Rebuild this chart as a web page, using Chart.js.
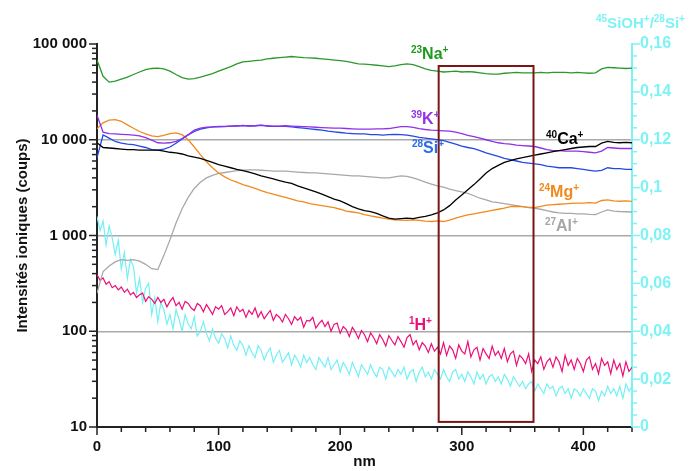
<!DOCTYPE html>
<html><head><meta charset="utf-8">
<script src="https://cdn.jsdelivr.net/npm/chart.js@4/dist/chart.umd.min.js"></script>
<style>html,body{margin:0;padding:0;background:#fff;}canvas{display:block;}</style>
</head><body>
<canvas id="c" width="691" height="471"></canvas>
<script>
// ---------- DATA ----------
const depth5 = [0,5,10,15,20,25,30,35,40,45,50,55,60,65,70,75,80,85,90,95,100,105,110,115,120,125,130,135,140,145,150,155,160,165,170,175,180,185,190,195,200,205,210,215,220,225,230,235,240,245,250,255,260,265,270,275,280,285,290,295,300,305,310,315,320,325,330,335,340,345,350,355,360,365,370,375,380,385,390,395,400,405,410,415,420,425,430,435,440];
const depth25 = [0,2.5,5,7.5,10,12.5,15,17.5,20,22.5,25,27.5,30,32.5,35,37.5,40,42.5,45,47.5,50,52.5,55,57.5,60,62.5,65,67.5,70,72.5,75,77.5,80,82.5,85,87.5,90,92.5,95,97.5,100,102.5,105,107.5,110,112.5,115,117.5,120,122.5,125,127.5,130,132.5,135,137.5,140,142.5,145,147.5,150,152.5,155,157.5,160,162.5,165,167.5,170,172.5,175,177.5,180,182.5,185,187.5,190,192.5,195,197.5,200,202.5,205,207.5,210,212.5,215,217.5,220,222.5,225,227.5,230,232.5,235,237.5,240,242.5,245,247.5,250,252.5,255,257.5,260,262.5,265,267.5,270,272.5,275,277.5,280,282.5,285,287.5,290,292.5,295,297.5,300,302.5,305,307.5,310,312.5,315,317.5,320,322.5,325,327.5,330,332.5,335,337.5,340,342.5,345,347.5,350,352.5,355,357.5,360,362.5,365,367.5,370,372.5,375,377.5,380,382.5,385,387.5,390,392.5,395,397.5,400,402.5,405,407.5,410,412.5,415,417.5,420,422.5,425,427.5,430,432.5,435,437.5,440];

const na23 = [68000,46000,40000,41000,43000,45000,48000,51000,54000,55500,
56000,55000,52000,48000,44500,43000,43500,45000,47000,49000,
52000,55000,58000,62000,65000,66000,67000,68000,70000,71000,
72000,73000,74000,73000,72000,71500,71000,70000,69000,68000,
67000,66000,64000,62000,61500,61000,60000,59000,58000,59000,
61000,62000,61000,58000,55000,53000,52000,51000,51500,52000,
51000,51500,51000,50000,49000,48500,48500,49500,50000,50500,
50000,50000,50000,50500,50000,50500,50500,50500,50000,50500,
50000,49500,50000,55000,57000,56500,56000,55500,56000];
const k39 = [18000,12000,11600,11500,11400,11300,11200,11000,10500,9900,
9300,9200,9300,9600,10300,11300,12600,13200,13500,13600,
13800,13800,13900,14000,14000,14000,14000,14100,14000,13900,
13900,14000,13900,13800,13700,13600,13500,13400,13300,13200,
13200,13100,13000,12900,12900,12900,13000,13000,13100,13400,
13700,13700,13500,13100,12800,12600,12500,12400,12300,12000,
11600,11100,10800,10400,10000,9600,9300,9100,9000,8800,
8700,8600,8500,8200,7900,7700,7700,7600,7600,7600,
7500,7400,7300,7600,8300,8200,8100,8100,8100];
const si28 = [6500,11200,10400,9600,9200,9000,8900,8600,8300,7900,
7800,8000,8400,9200,10200,11200,12200,12900,13300,13600,
13600,13700,13900,13900,14100,13900,14000,14200,13900,13800,
13800,13800,13600,13400,13200,13000,12800,12600,12300,12100,
11900,11700,11600,11500,11500,11300,11300,11200,11300,11400,
11300,11200,10900,10600,10400,10200,10000,9800,9400,9000,
8600,8300,8100,7700,7300,7000,6700,6400,6200,6000,
5800,5700,5600,5500,5300,5200,5100,5100,5100,5000,
4900,4800,4700,4800,5100,5000,5000,4900,4900];
const ca40 = [9300,8300,8200,8100,8000,7900,7900,7800,7800,7800,
7800,7600,7400,7300,7100,6800,6600,6400,6100,5800,
5500,5300,5100,4900,4750,4600,4400,4200,4050,3900,
3750,3600,3500,3300,3150,3000,2850,2700,2550,2400,
2300,2150,2000,1900,1820,1780,1700,1600,1520,1480,
1500,1520,1500,1550,1580,1640,1720,1850,2050,2350,
2650,3000,3400,3900,4500,5000,5400,5800,6050,6300,
6500,6700,6900,7100,7300,7500,7700,7900,8100,8300,
8400,8500,8500,9200,9600,9400,9300,9400,9300];
const mg24 = [13000,15000,16000,16200,15600,14300,13200,12200,11500,11000,
10800,11100,11600,11800,11300,10000,8400,7000,5900,5100,
4500,4100,3800,3600,3400,3250,3100,2950,2800,2700,
2600,2500,2400,2300,2250,2150,2100,2050,2000,1950,
1880,1800,1760,1720,1650,1600,1560,1520,1480,1460,
1450,1440,1460,1440,1410,1400,1420,1400,1450,1520,
1580,1640,1680,1730,1780,1830,1880,1930,2000,2020,
2000,1970,1960,2020,2080,2100,2120,2140,2160,2180,
2180,2200,2180,2320,2360,2300,2280,2300,2270];
const al27 = [250,420,480,530,560,550,560,540,500,450,
440,620,900,1350,1900,2500,3100,3600,4000,4250,
4450,4550,4650,4750,4800,4850,4850,4800,4750,4700,
4700,4700,4650,4600,4550,4500,4500,4450,4400,4350,
4300,4250,4200,4200,4150,4100,4050,4000,4000,4100,
4200,4150,4000,3800,3600,3450,3300,3200,3050,2950,
2850,2750,2600,2450,2350,2250,2200,2150,2100,2050,
2000,1950,1920,1880,1820,1760,1720,1700,1700,1680,
1680,1660,1650,1760,1850,1800,1780,1770,1760];
const h1 = [390,340,360,310,330,285,300,270,290,255,
275,240,255,225,240,250,205,230,215,195,
225,200,215,180,205,225,185,200,170,205,
195,175,165,195,185,160,190,170,150,180,
170,185,150,160,175,145,180,160,170,140,
165,150,175,140,160,135,150,165,130,150,
140,125,150,135,118,142,130,140,110,130,
128,140,108,120,130,112,125,100,118,122,
95,112,104,88,110,98,84,102,92,78,
96,86,74,92,82,70,90,80,72,88,
78,68,86,92,72,80,64,76,70,60,
74,62,68,58,76,56,70,64,52,72,
62,58,78,54,64,68,50,66,58,52,
70,56,62,52,66,48,58,62,44,56,
52,46,58,38,50,46,54,40,48,52,
42,54,48,38,56,44,50,40,52,46,
38,50,54,40,46,36,52,44,48,36,
50,40,46,34,48,38,42];
const siohRatio = [0.088,0.082,0.086,0.076,0.084,0.079,0.072,0.078,0.066,0.073,
0.062,0.070,0.067,0.056,0.062,0.052,0.058,0.060,0.047,0.054,
0.044,0.052,0.049,0.043,0.047,0.041,0.049,0.045,0.040,0.047,
0.043,0.041,0.046,0.038,0.040,0.044,0.039,0.036,0.041,0.037,
0.035,0.039,0.037,0.033,0.038,0.034,0.032,0.036,0.034,0.030,
0.034,0.031,0.029,0.034,0.032,0.028,0.031,0.033,0.027,0.030,
0.032,0.027,0.029,0.031,0.026,0.030,0.028,0.025,0.030,0.027,
0.029,0.026,0.024,0.029,0.027,0.025,0.029,0.024,0.026,0.028,
0.023,0.027,0.025,0.022,0.027,0.024,0.021,0.026,0.024,0.022,
0.026,0.023,0.021,0.025,0.024,0.020,0.025,0.023,0.021,0.024,
0.022,0.025,0.020,0.023,0.024,0.019,0.023,0.025,0.021,0.023,
0.020,0.024,0.022,0.020,0.024,0.021,0.019,0.023,0.024,0.020,
0.022,0.019,0.023,0.021,0.018,0.023,0.020,0.022,0.018,0.021,
0.022,0.019,0.021,0.018,0.022,0.020,0.017,0.021,0.019,0.017,
0.019,0.016,0.018,0.019,0.015,0.018,0.016,0.014,0.018,0.016,
0.017,0.013,0.016,0.017,0.014,0.016,0.012,0.016,0.015,0.013,
0.016,0.014,0.012,0.016,0.015,0.011,0.015,0.013,0.017,0.014,
0.016,0.013,0.017,0.012,0.018,0.015,0.017];

const xTickValues = [0,20,40,60,80,100,120,140,160,180,200,220,240,260,280,300,320,340,360,380,400,420,440];
const xLabelValues = [0,100,200,300,400];
const yTickValues = [10,20,30,40,50,60,70,80,90,100,200,300,400,500,600,700,800,900,1000,2000,3000,4000,5000,6000,7000,8000,9000,10000,20000,30000,40000,50000,60000,70000,80000,90000,100000];
const yLabelValues = [10,100,1000,10000,100000];
const yGridValues = [100,1000,10000];
const y2TickValues = [0,0.005,0.01,0.015,0.02,0.025,0.03,0.035,0.04,0.045,0.05,0.055,0.06,0.065,0.07,0.075,0.08,0.085,0.09,0.095,0.1,0.105,0.11,0.115,0.12,0.125,0.13,0.135,0.14,0.145,0.15,0.155,0.16];
const y2LabelValues = [0,0.02,0.04,0.06,0.08,0.1,0.12,0.14,0.16];

// highlighted depth window (annotation rectangle)
const boxDepth = [281, 359];
const boxIntensity = [11.3, 58900];

// series labels: text parts (sup flag), anchored in data units
const labelParts = {
  na: [['23',1],['Na',0],['+',1]],
  k:  [['39',1],['K',0],['+',1]],
  si: [['28',1],['Si',0],['+',1]],
  ca: [['40',1],['Ca',0],['+',1]],
  mg: [['24',1],['Mg',0],['+',1]],
  al: [['27',1],['Al',0],['+',1]],
  h:  [['1',1],['H',0],['+',1]]
};
const labelDepth = {na:258.2, k:258.2, si:259, ca:369.3, mg:363.5, al:368.4, h:256.6};
const labelIntensity = {na:69700, k:14600, si:7270, ca:9030, mg:2525, al:1114, h:103};
const rightTitleParts = [['45',1],['SiOH',0],['+',1],['/',0],['28',1],['Si',0],['+',1]];

// ---------- STYLE ----------
const FONT = "'Liberation Sans', Arial, sans-serif";
const COL = {na:'#2a982a', k:'#9030e8', si:'#2248e6', ca:'#000000', mg:'#f3891c', al:'#a8a8a8', h:'#ec0f79', r:'#74f0f5'};
const LBLCOL = {na:'#1f9a1f', k:'#9433e6', si:'#2b6de4', ca:'#000000', mg:'#f3891c', al:'#a6a6a6', h:'#ec0f79'};
const CYAN = '#7ef3f6';

function pts(xs, ys){ return xs.map((d,i)=>({x:d, y:ys[i]})); }
function fmtThousands(v){ return String(v).replace(/\B(?=(\d{3})+(?!\d))/g,' '); }
function near(arr, v){ return arr.some(a=>Math.abs(a-v)<1e-9); }

function drawRich(ctx, x, y, parts, color, bigSize){
  ctx.fillStyle = color;
  ctx.textBaseline = 'alphabetic';
  ctx.textAlign = 'left';
  let cx = x;
  parts.forEach(([t,sup])=>{
    ctx.font = sup ? `bold 10px ${FONT}` : `bold ${bigSize}px ${FONT}`;
    ctx.fillText(t, cx, sup ? y-6 : y);
    cx += ctx.measureText(t).width;
  });
}

const overlayPlugin = {
  id:'overlay',
  afterDatasetsDraw(chart){
    const ctx = chart.ctx, xs = chart.scales.x, ys = chart.scales.y;
    ctx.save();
    const x0 = xs.getPixelForValue(boxDepth[0]), x1 = xs.getPixelForValue(boxDepth[1]);
    const yT = ys.getPixelForValue(boxIntensity[1]), yB = ys.getPixelForValue(boxIntensity[0]);
    ctx.strokeStyle = '#7a1616'; ctx.lineWidth = 2;
    ctx.strokeRect(x0, yT, x1-x0, yB-yT);
    Object.keys(labelParts).forEach(k=>{
      drawRich(ctx, xs.getPixelForValue(labelDepth[k]), ys.getPixelForValue(labelIntensity[k]), labelParts[k], LBLCOL[k], 16);
    });
    ctx.restore();
  },
  afterDraw(chart){
    const ctx = chart.ctx, xs = chart.scales.x, ys = chart.scales.y, y2 = chart.scales.y2;
    ctx.save();
    ctx.lineWidth = 1.5;
    ctx.strokeStyle = '#222';
    xTickValues.forEach(v=>{
      const p = xs.getPixelForValue(v);
      const len = near(xLabelValues, v) ? 8 : 5;
      ctx.beginPath(); ctx.moveTo(p, xs.top); ctx.lineTo(p, xs.top+len); ctx.stroke();
    });
    yTickValues.forEach(v=>{
      const p = ys.getPixelForValue(v);
      const len = near(yLabelValues, v) ? 8 : 5;
      ctx.beginPath(); ctx.moveTo(ys.right, p); ctx.lineTo(ys.right-len, p); ctx.stroke();
    });
    ctx.strokeStyle = CYAN;
    y2TickValues.forEach(v=>{
      const p = y2.getPixelForValue(v);
      const len = near(y2LabelValues, v) ? 8 : 5;
      ctx.beginPath(); ctx.moveTo(y2.left, p); ctx.lineTo(y2.left+len, p); ctx.stroke();
    });
    drawRich(ctx, y2.left - 36, chart.chartArea.top - 16, rightTitleParts, CYAN, 15);
    ctx.restore();
  }
};

const ds = (label, xs, ys, color, axis, order, w) => ({
  label, data: pts(xs, ys), borderColor: color, backgroundColor: color,
  borderWidth: w, pointRadius: 0, tension: 0, fill: false, yAxisID: axis, order
});

new Chart(document.getElementById('c'), {
  type: 'line',
  data: {
    datasets: [
      ds('40Ca+', depth5, ca40, COL.ca, 'y', 1, 1.3),
      ds('28Si+', depth5, si28, COL.si, 'y', 3, 1.3),
      ds('39K+', depth5, k39, COL.k, 'y', 2, 1.3),
      ds('24Mg+', depth5, mg24, COL.mg, 'y', 4, 1.3),
      ds('27Al+', depth5, al27, COL.al, 'y', 5, 1.3),
      ds('23Na+', depth5, na23, COL.na, 'y', 6, 1.3),
      ds('1H+', depth25, h1, COL.h, 'y', 7, 1.2),
      ds('45SiOH+/28Si+', depth25, siohRatio, COL.r, 'y2', 8, 1.2)
    ]
  },
  options: {
    responsive: false, animation: false, devicePixelRatio: 1,
    layout: { padding: { top: 44, left: 0, right: 0, bottom: 0 } },
    plugins: { legend: { display: false }, tooltip: { enabled: false } },
    scales: {
      x: {
        type: 'linear', position: 'bottom', min: 0, max: 440,
        afterBuildTicks: s => { s.ticks = xTickValues.map(v=>({value:v})); },
        afterFit: s => { s.height = 44; },
        ticks: { autoSkip: false, maxRotation: 0, padding: 11, color: '#111',
          font: { family: FONT, size: 15, weight: 'bold' },
          callback: v => near(xLabelValues, v) ? String(v) : '' },
        grid: { display: true, drawOnChartArea: false, drawTicks: false },
        border: { display: true, color: '#222', width: 2 },
        title: { display: true, text: 'nm', color: '#111', font: { family: FONT, size: 15, weight: 'bold' }, padding: { top: 0, bottom: 0 } }
      },
      y: {
        type: 'logarithmic', position: 'left', min: 10, max: 100000,
        afterBuildTicks: s => { s.ticks = yTickValues.map(v=>({value:v})); },
        afterFit: s => { s.width = 97; },
        ticks: { autoSkip: false, padding: 10, color: '#111',
          font: { family: FONT, size: 15, weight: 'bold' },
          callback: v => near(yLabelValues, v) ? fmtThousands(v) : '' },
        grid: { drawTicks: false, lineWidth: 1.5,
          color: c => (c.tick && near(yGridValues, c.tick.value)) ? '#a9a9a9' : 'rgba(0,0,0,0)' },
        border: { display: true, color: '#222', width: 2 },
        title: { display: true, text: 'Intensités ioniques (coups)', color: '#111', font: { family: FONT, size: 15, weight: 'bold' }, padding: { top: 14, bottom: 0 } }
      },
      y2: {
        type: 'linear', position: 'right', min: 0, max: 0.16,
        afterBuildTicks: s => { s.ticks = y2TickValues.map(v=>({value:v})); },
        afterFit: s => { s.width = 59; },
        ticks: { autoSkip: false, padding: 8, color: CYAN,
          font: { family: FONT, size: 16, weight: 'bold' },
          callback: v => near(y2LabelValues, v) ? String(Number(v.toFixed(2))).replace('.', ',') : '' },
        grid: { display: true, drawOnChartArea: false, drawTicks: false },
        border: { display: true, color: CYAN, width: 2 }
      }
    }
  },
  plugins: [overlayPlugin]
});
</script>
</body></html>
